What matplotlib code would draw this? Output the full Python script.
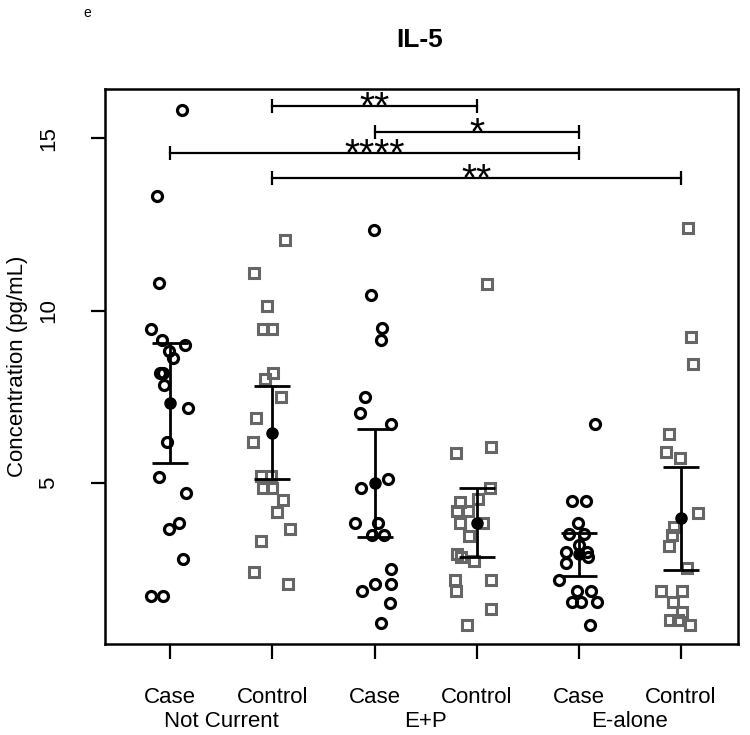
import matplotlib
matplotlib.use("Agg")
import matplotlib.pyplot as plt

plt.rcParams['font.family'] = ['Liberation Sans', 'DejaVu Sans']

# data: concentration values and horizontal jitter per point
nc_case = [15.83, 13.32, 10.79, 9.48, 9.14, 8.99, 8.83, 8.64, 8.20, 8.20,
           7.84, 7.19, 6.20, 5.18, 4.70, 3.85, 3.66, 2.79, 1.72, 1.72]
nc_case_jit = [0.11, -0.13, -0.11, -0.19, -0.08, 0.14, -0.01, 0.03, -0.10, -0.07,
               -0.06, 0.17, -0.03, -0.11, 0.15, 0.08, -0.01, 0.12, -0.19, -0.07]

nc_ctrl = [12.04, 11.10, 10.13, 9.47, 9.47, 8.20, 8.01, 7.50, 6.88, 6.19,
           5.20, 5.20, 4.85, 4.85, 4.51, 4.17, 3.66, 3.33, 2.43, 2.07]
nc_ctrl_jit = [0.12, -0.18, -0.05, -0.09, 0.00, 0.01, -0.07, 0.08, -0.16, -0.19,
               -0.11, -0.01, -0.09, 0.00, 0.10, 0.04, 0.17, -0.11, -0.18, 0.15]

ep_case = [12.35, 10.44, 9.49, 9.14, 7.50, 7.02, 6.71, 5.11, 4.85, 3.83,
           3.83, 3.49, 3.49, 2.51, 2.07, 2.07, 1.86, 1.53, 0.95]
ep_case_jit = [-0.01, -0.03, 0.07, 0.06, -0.09, -0.14, 0.16, 0.13, -0.13, -0.19,
               0.03, -0.02, 0.09, 0.16, 0.00, 0.16, -0.12, 0.15, 0.06]

ep_ctrl = [10.77, 6.05, 5.86, 4.85, 4.53, 4.46, 4.19, 4.19, 3.83, 3.83,
           3.47, 2.94, 2.85, 2.75, 2.19, 2.19, 1.86, 1.34, 0.88]
ep_ctrl_jit = [0.10, 0.14, -0.20, 0.13, 0.01, -0.16, -0.19, -0.08, -0.16, 0.06,
               -0.07, -0.19, -0.15, -0.03, -0.21, 0.14, -0.20, 0.14, -0.09]

ea_case = [6.71, 4.48, 4.48, 3.83, 3.52, 3.52, 3.20, 3.01, 3.01, 2.85,
           2.69, 2.19, 1.87, 1.87, 1.54, 1.54, 1.54, 0.88]
ea_case_jit = [0.16, -0.07, 0.07, -0.01, -0.10, 0.05, 0.00, -0.12, 0.08, 0.09,
               -0.12, -0.19, -0.02, 0.12, -0.07, 0.02, 0.18, 0.11]

ea_ctrl = [12.41, 9.24, 8.45, 6.41, 5.91, 5.74, 4.14, 3.73, 3.49, 3.17,
           2.53, 1.87, 1.87, 1.56, 1.25, 1.03, 1.03, 0.88]
ea_ctrl_jit = [0.07, 0.10, 0.12, -0.12, -0.15, -0.01, 0.17, -0.07, -0.09, -0.12,
               0.06, -0.19, 0.01, -0.08, 0.01, -0.11, -0.03, 0.09]

groups = [nc_case, nc_ctrl, ep_case, ep_ctrl, ea_case, ea_ctrl]
jitters = [nc_case_jit, nc_ctrl_jit, ep_case_jit, ep_ctrl_jit, ea_case_jit, ea_ctrl_jit]
is_case = [True, False, True, False, True, False]

# mean and 95% CI as drawn
means = [7.31, 6.46, 4.99, 3.83, 2.94, 3.98]
ci_lo = [5.57, 5.11, 3.44, 2.86, 2.31, 2.48]
ci_hi = [9.05, 7.81, 6.57, 4.85, 3.54, 5.47]

tick_labels = ['Case', 'Control', 'Case', 'Control', 'Case', 'Control']
group_labels = ['Not Current', 'E+P', 'E-alone']

# significance brackets: (from, to, height, stars)
brackets = [(2, 4, 15.93, '**'),
            (3, 5, 15.19, '*'),
            (1, 5, 14.57, '****'),
            (2, 6, 13.86, '**')]

fig = plt.figure(figsize=(7.5, 7.35), dpi=100)
ax = fig.add_axes([105 / 750, 1 - 644 / 735, 633 / 750, 555 / 735])

pos = [1, 2, 3, 4, 5, 6]
for p, vals, jit, case in zip(pos, groups, jitters, is_case):
    xs = [p + j for j in jit]
    if case:
        ax.plot(xs, vals, linestyle='none', marker='o', ms=7.2, mfc='none',
                mec='black', mew=2.3)
    else:
        ax.plot(xs, vals, linestyle='none', marker='s', ms=7.5, mfc='none',
                mec='#666666', mew=2.2)

yerr = [[m - lo for m, lo in zip(means, ci_lo)],
        [hi - m for m, hi in zip(means, ci_hi)]]
ax.errorbar(pos, means, yerr=yerr, fmt='o', color='black', ms=8,
            elinewidth=2, capsize=13, capthick=2)

for a, b, y, txt in brackets:
    ax.plot([a, b], [y, y], color='black', lw=1.6, marker='|', ms=10, mew=1.6)
    ax.annotate(txt, xy=((a + b) / 2, y), xytext=(0, -9), textcoords='offset points',
                ha='center', va='baseline', fontsize=28)

ax.set_xlim(0.36, 6.56)
ax.set_ylim(0.33, 16.43)

ax.set_xticks(pos)
ax.set_xticklabels(tick_labels, fontsize=16)
ax.tick_params(axis='x', length=11, width=1.6, pad=20)
ax.set_yticks([5, 10, 15])
ax.set_yticklabels(['5', '10', '15'], fontsize=16, rotation=90, va='center')
ax.tick_params(axis='y', length=10, width=1.6, pad=23)

for i, lab in enumerate(group_labels):
    ax.annotate(lab, xy=(2 * i + 1.5, 0), xycoords=('data', 'axes fraction'),
                xytext=(0, -56), textcoords='offset points',
                ha='center', va='center', fontsize=16)

ax.set_ylabel('Concentration (pg/mL)', fontsize=16, va='center')
ax.yaxis.set_label_coords(-88 / 633, 0.5)
for s in ax.spines.values():
    s.set_linewidth(1.8)

fig.text(420 / 750, 1 - 40 / 735, 'IL-5', ha='center', va='center',
         fontsize=19, fontweight='bold')
fig.text(87 / 750, 1 - 13 / 735, 'e', ha='center', va='center', fontsize=10)

plt.savefig('out.png', dpi=100)
